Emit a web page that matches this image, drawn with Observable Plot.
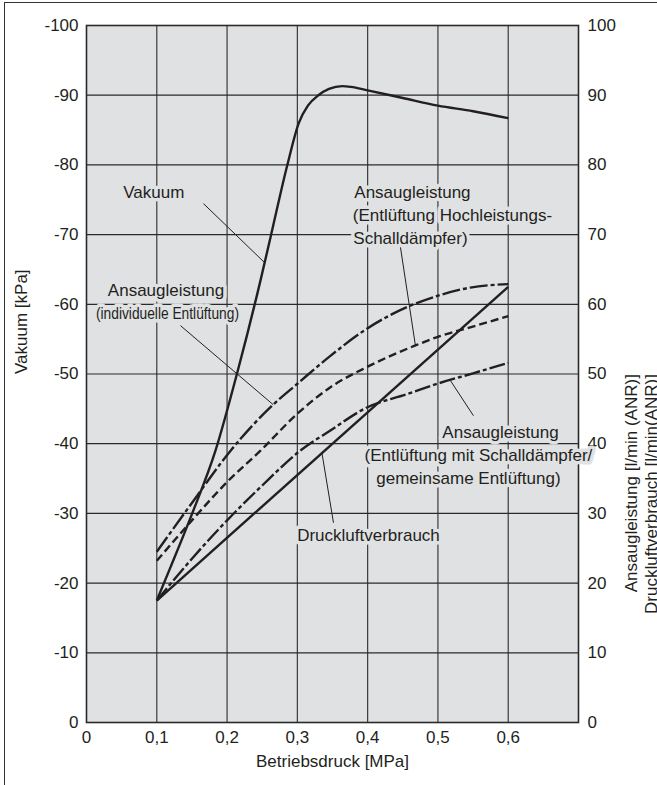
<!DOCTYPE html>
<html><head><meta charset="utf-8">
<script src="https://cdn.jsdelivr.net/npm/d3@7"></script>
<script src="https://cdn.jsdelivr.net/npm/@observablehq/plot@0.6"></script>
<style>
body{margin:0;background:#fff;}
#wrap{position:relative;width:657px;height:785px;overflow:hidden;}
#border{position:absolute;left:4px;top:2px;right:-4px;bottom:-4px;border-left:1.5px solid #333;border-top:1.5px solid #333;pointer-events:none;}
</style></head><body><div id="wrap"><div id="border"></div></div>
<script>
// ---- data (pressure in MPa, values in l/min resp. -kPa) ----
const xTicks = [0, 0.1, 0.2, 0.3, 0.4, 0.5, 0.6];
const yTicks = [0, 10, 20, 30, 40, 50, 60, 70, 80, 90, 100];

const vakuumX = [0.1, 0.12, 0.15, 0.1835, 0.214, 0.2475, 0.262, 0.286, 0.302, 0.315, 0.33, 0.345, 0.364, 0.376, 0.4, 0.45, 0.5, 0.55, 0.6];
const vakuumY = [17.5, 22.4, 29.9, 39, 50, 63.4, 69.7, 80.1, 86.0, 88.5, 90.0, 90.9, 91.3, 91.2, 90.7, 89.6, 88.5, 87.7, 86.7];

const verbrauchX = [0.1, 0.6];
const verbrauchY = [17.5, 62.5];

const individuellX = [0.1, 0.15, 0.205, 0.2655, 0.3, 0.347, 0.399, 0.456, 0.499, 0.546, 0.6];
const individuellY = [24.5, 31.5, 39, 45.6, 48.6, 52.6, 56.5, 59.6, 61.2, 62.4, 62.9];

const hochleistungX = [0.1, 0.15, 0.2, 0.2475, 0.3, 0.347, 0.399, 0.468, 0.499, 0.546, 0.6];
const hochleistungY = [23.2, 29, 34.5, 39, 44.3, 48.1, 51.0, 54.1, 55.3, 56.7, 58.3];

const gemeinsamX = [0.1, 0.15, 0.2, 0.25, 0.304, 0.347, 0.399, 0.456, 0.499, 0.55, 0.6];
const gemeinsamY = [17.5, 23.5, 29, 34, 39, 41.9, 45.2, 47.1, 48.6, 50.1, 51.6];

const labelText = ["Vakuum", "Ansaugleistung", "Ansaugleistung", "(Entlüftung Hochleistungs-", "Schalldämpfer)", "Ansaugleistung", "(Entlüftung mit Schalldämpfer/", "gemeinsame Entlüftung)", "Druckluftverbrauch"];
const labelX = [0.0957, 0.1131, 0.4637, 0.5206, 0.4609, 0.589, 0.5577, 0.5434, 0.4012];
const labelY = [76.07, 61.96, 76.03, 72.73, 69.43, 41.58, 38.28, 34.98, 26.8];
const narrowText = ["(individuelle Entlüftung)"];
const narrowX = [0.1152];
const narrowY = [58.62];

const leaderX1 = [0.1664, 0.1337, 0.4467, 0.5178, 0.335];
const leaderY1 = [74.45, 56.94, 68.18, 49.05, 38.65];
const leaderX2 = [0.2532, 0.2656, 0.468, 0.5505, 0.3514];
const leaderY2 = [66.0, 45.6, 54.07, 44.02, 28.66];

const xTitle = "Betriebsdruck [MPa]";
const leftTitle = "Vakuum [kPa]";
const rightTitle = "Ansaugleistung [l/min (ANR)]\nDruckluftverbrauch [l/min(ANR)]";

// ---- build ----
const pts = (xs, ys) => xs.map((x, i) => ({x, y: ys[i]}));
const ink = "#231f20";
const bg = "#e0e1e3";
const font = "'Liberation Sans', Arial, Helvetica, sans-serif";

const labels = labelText.map((t, i) => ({t, x: labelX[i], y: labelY[i]}));
const narrow = narrowText.map((t, i) => ({t, x: narrowX[i], y: narrowY[i]}));
const leaders = leaderX1.map((x1, i) => ({x1, y1: leaderY1[i], x2: leaderX2[i], y2: leaderY2[i]}));

const lineOpts = {x: "x", y: "y", curve: "monotone-x", stroke: ink, strokeWidth: 2.4, strokeLinecap: "butt"};

const chart = Plot.plot({
  width: 657,
  height: 785,
  marginLeft: 86,
  marginRight: 79,
  marginTop: 25,
  marginBottom: 63,
  style: {fontFamily: font, fontSize: "17px", color: ink, background: "transparent"},
  x: {domain: [0, 0.7]},
  y: {domain: [0, 100]},
  marks: [
    Plot.frame({fill: bg, stroke: null}),
    Plot.gridX({ticks: xTicks.filter(d => d > 0), stroke: "#3a3a3a", strokeOpacity: 1, strokeWidth: 1.2}),
    Plot.gridY({ticks: yTicks.filter(d => d > 0 && d < 100), stroke: "#2a2a2a", strokeOpacity: 1, strokeWidth: 1.2}),
    Plot.frame({stroke: "#2a2a2a", strokeWidth: 1.6}),
    Plot.axisY({anchor: "left", ticks: yTicks, tickFormat: d => d === 0 ? "0" : "-" + d, tickSize: 0, tickPadding: 8, label: null, fontSize: 17}),
    Plot.axisY({anchor: "right", ticks: yTicks, tickFormat: d => String(d), tickSize: 0, tickPadding: 9, label: null, fontSize: 17}),
    Plot.axisX({ticks: xTicks, tickFormat: d => d === 0 ? "0" : String(d).replace(".", ","), tickSize: 0, tickPadding: 8, label: null, fontSize: 17}),
    Plot.link(leaders, {x1: "x1", y1: "y1", x2: "x2", y2: "y2", stroke: ink, strokeWidth: 1}),
    Plot.text(labels, {x: "x", y: "y", text: "t", fill: ink, fontSize: 17, stroke: bg, strokeWidth: 7}),
    Plot.text(narrow, {x: "x", y: "y", text: "t", fill: ink, fontSize: 16, stroke: bg, strokeWidth: 7, className: "narrow-label"}),
    Plot.line(pts(verbrauchX, verbrauchY), {...lineOpts, curve: "linear"}),
    Plot.line(pts(gemeinsamX, gemeinsamY), {...lineOpts, strokeDasharray: "16,3,4,3"}),
    Plot.line(pts(hochleistungX, hochleistungY), {...lineOpts, strokeDasharray: "8,4"}),
    Plot.line(pts(individuellX, individuellY), {...lineOpts, strokeDasharray: "18,3,4,3"}),
    Plot.line(pts(vakuumX, vakuumY), {...lineOpts}),
    Plot.text([leftTitle], {frameAnchor: "left", rotate: -90, dx: -65, fontSize: 17, fill: ink}),
    Plot.text([rightTitle], {frameAnchor: "right", rotate: -90, dx: 62, fontSize: 17, fill: ink, lineAnchor: "middle", lineHeight: 1.15}),
    Plot.text([xTitle], {frameAnchor: "bottom", dy: 44, fontSize: 17, fill: ink})
  ]
});
// condensed look of the small label, as in the reference
d3.select(chart).selectAll("text").filter(function () { return this.textContent === narrowText[0]; })
  .attr("textLength", 143).attr("lengthAdjust", "spacingAndGlyphs");
document.getElementById("wrap").prepend(chart);
</script>
</body></html>
